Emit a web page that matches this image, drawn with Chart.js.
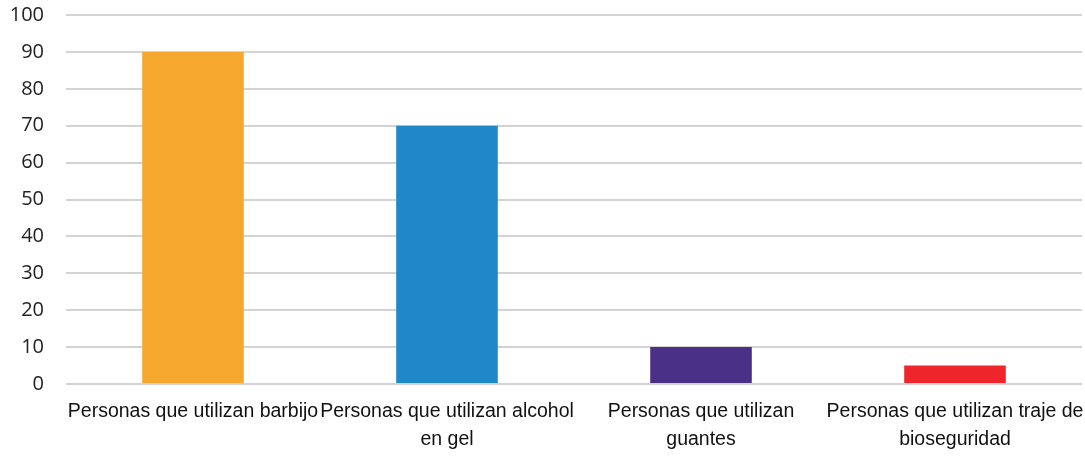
<!DOCTYPE html>
<html>
<head>
<meta charset="utf-8">
<script src="https://cdn.jsdelivr.net/npm/chart.js@4/dist/chart.umd.min.js"></script>
<style>
  html, body { margin: 0; padding: 0; background: #fff; }
  #wrap { width: 1085px; height: 456px; }
</style>
</head>
<body>
<div id="wrap"><canvas id="chart"></canvas></div>
<script>
// categorías (cada una partida en líneas)
const categorias = [
    ["Personas que utilizan barbijo"],
    ["Personas que utilizan alcohol", "en gel"],
    ["Personas que utilizan", "guantes"],
    ["Personas que utilizan traje de", "bioseguridad"]
];
const valores = [90, 70, 10, 5];
const colores = ["#F6A82E", "#1F88C9", "#4B3088", "#EE262C"];
const ticksY = [0, 10, 20, 30, 40, 50, 60, 70, 80, 90, 100];

const ctx = document.getElementById("chart");

new Chart(ctx, {
    type: "bar",
    data: {
        labels: categorias,
        datasets: [{
            data: valores,
            backgroundColor: colores,
            barPercentage: 0.4,
            categoryPercentage: 1.0
        }]
    },
    options: {
        responsive: true,
        maintainAspectRatio: false,
        animation: false,
        layout: { padding: { top: 15, right: 3, left: 0, bottom: 0 } },
        plugins: {
            legend: { display: false },
            tooltip: { enabled: false }
        },
        scales: {
            x: {
                grid: { display: false, drawTicks: false },
                border: { display: false },
                ticks: {
                    color: "#111",
                    padding: 14,
                    maxRotation: 0,
                    autoSkip: false,
                    font: { family: "'Liberation Sans', Arial, sans-serif", size: 19.5, lineHeight: 1.44 }
                },
                afterFit: function (scale) {
                    scale.height = 72;
                    scale.paddingLeft = 0;
                    scale.paddingRight = 0;
                }
            },
            y: {
                min: 0,
                max: 100,
                afterBuildTicks: function (scale) {
                    scale.ticks = ticksY.map(v => ({ value: v }));
                },
                grid: { color: "#d3d3d3", lineWidth: 2, drawTicks: false },
                border: { display: false },
                ticks: {
                    color: "#222",
                    padding: 22,
                    font: { family: "'Open Sans', sans-serif", size: 20 }
                },
                afterFit: function (scale) {
                    scale.width = 66;
                    scale.paddingTop = 0;
                    scale.paddingBottom = 0;
                }
            }
        }
    }
});
</script>
</body>
</html>
